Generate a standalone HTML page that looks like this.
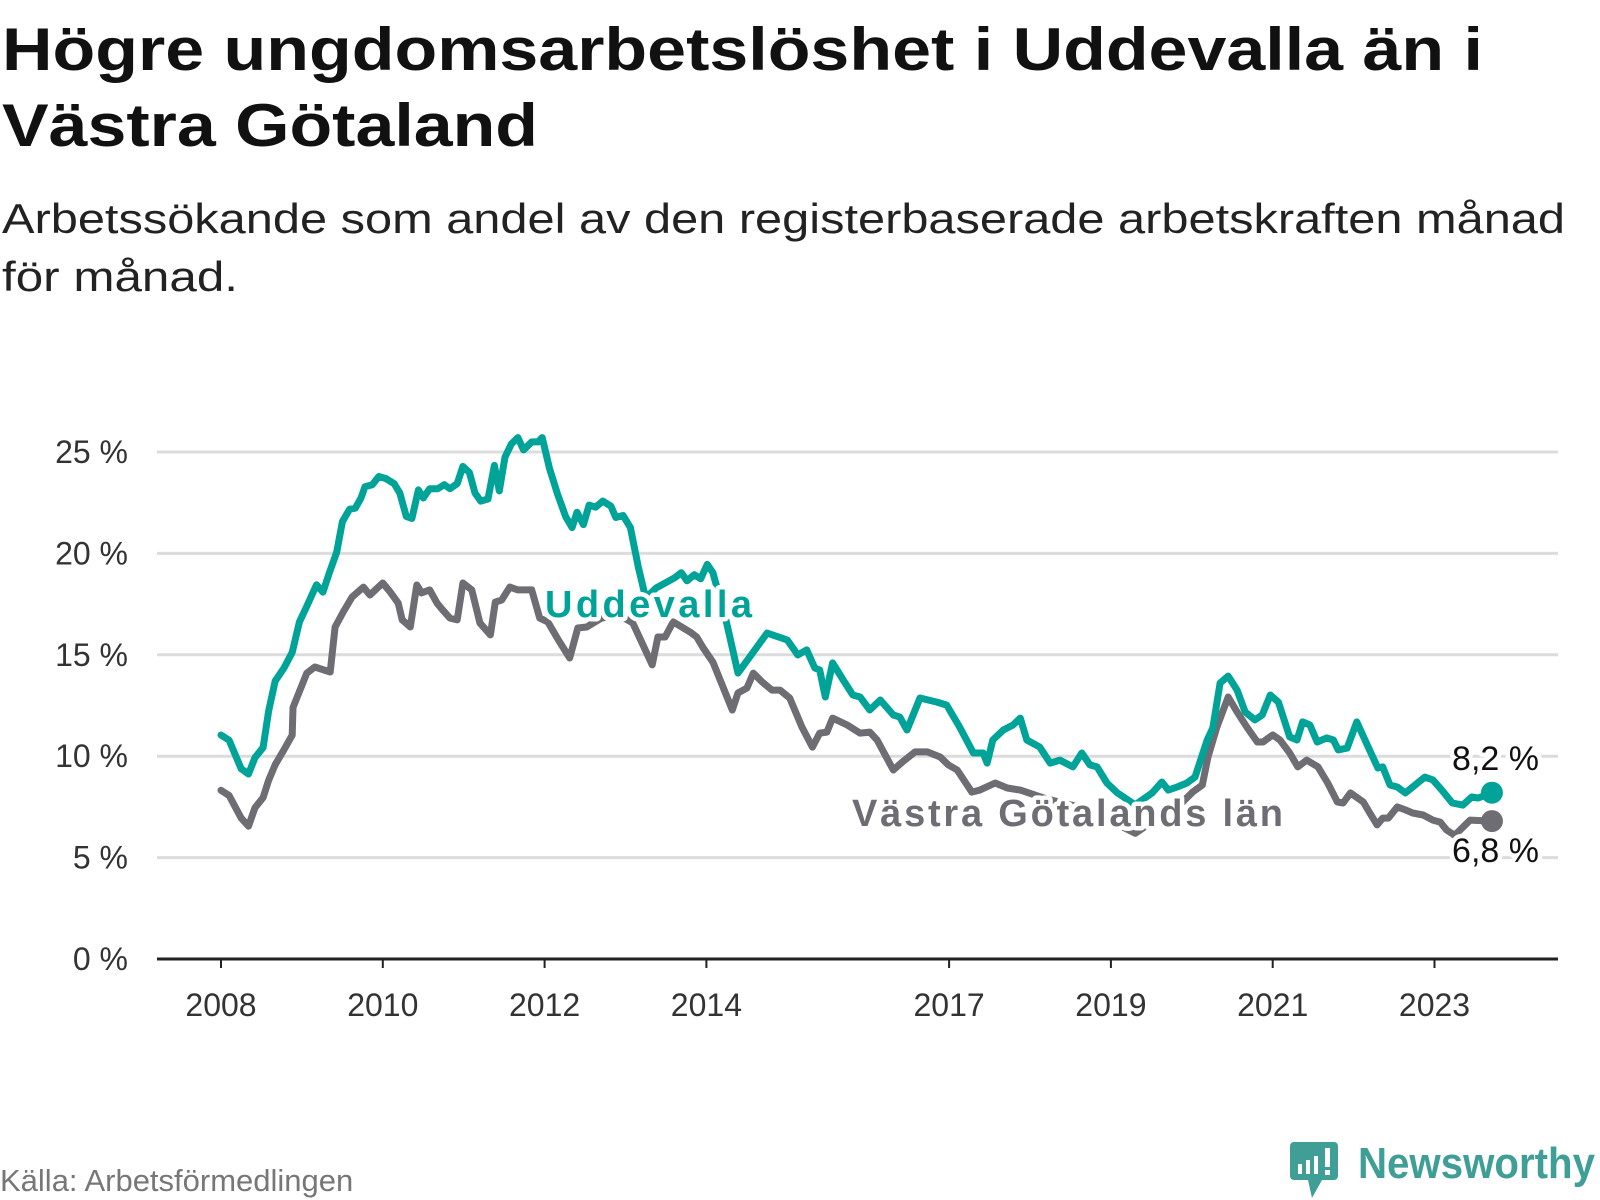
<!DOCTYPE html>
<html><head><meta charset="utf-8"><style>
html,body{margin:0;padding:0;background:#fff;}
svg{display:block;font-family:"Liberation Sans",sans-serif;}
</style></head><body>
<svg id="chart" width="1600" height="1200" viewBox="0 0 1600 1200" xmlns="http://www.w3.org/2000/svg">
<text x="2" y="70" font-size="60" font-weight="bold" fill="#111" textLength="1481" lengthAdjust="spacingAndGlyphs">Högre ungdomsarbetslöshet i Uddevalla än i</text>
<text x="2" y="146" font-size="60" font-weight="bold" fill="#111" textLength="536" lengthAdjust="spacingAndGlyphs">Västra Götaland</text>
<text x="2" y="233" font-size="42" fill="#222" textLength="1563" lengthAdjust="spacingAndGlyphs">Arbetssökande som andel av den registerbaserade arbetskraften månad</text>
<text x="2" y="291" font-size="42" fill="#222" textLength="236" lengthAdjust="spacingAndGlyphs">för månad.</text>
<g id="grid"></g>
<g id="yticks"></g>
<g id="xticks"></g>
<g id="series"></g>
<g id="labels"></g>
<text x="0" y="1191" font-size="31" fill="#777">Källa: Arbetsförmedlingen</text>
<g>
<path d="M1294 1142 H1334 a4 4 0 0 1 4 4 V1176 a4 4 0 0 1 -4 4 H1322 L1312 1198 L1308 1180 H1294 a4 4 0 0 1 -4 -4 V1146 a4 4 0 0 1 4 -4 Z" fill="#3f9e96"/>
<rect x="1298" y="1164" width="4" height="10" fill="#fff"/>
<rect x="1306" y="1160" width="4" height="14" fill="#fff"/>
<rect x="1314" y="1156" width="4" height="18" fill="#fff"/>
<rect x="1325" y="1148" width="5" height="19" fill="#fff"/>
<rect x="1325" y="1170" width="5" height="5" fill="#fff"/>
<text x="1358" y="1178" font-size="44" font-weight="bold" fill="#3f9e96" textLength="237" lengthAdjust="spacingAndGlyphs">Newsworthy</text>
</g>
</svg>
<script>
const yTicks=[0,5,10,15,20,25];
const yTickLabels=["0 %","5 %","10 %","15 %","20 %","25 %"];
const xTicks=[2008,2010,2012,2014,2017,2019,2021,2023];
const uddDates=[2008.00,2008.10,2008.25,2008.34,2008.42,2008.52,2008.59,2008.67,2008.78,2008.88,2008.97,2009.06,2009.18,2009.26,2009.34,2009.43,2009.50,2009.59,2009.66,2009.73,2009.78,2009.87,2009.95,2010.04,2010.14,2010.21,2010.29,2010.36,2010.44,2010.50,2010.58,2010.68,2010.76,2010.83,2010.92,2010.99,2011.07,2011.14,2011.21,2011.30,2011.38,2011.44,2011.51,2011.59,2011.67,2011.74,2011.84,2011.92,2011.97,2012.06,2012.16,2012.26,2012.34,2012.40,2012.48,2012.55,2012.63,2012.72,2012.82,2012.88,2012.97,2013.06,2013.16,2013.25,2013.38,2013.61,2013.69,2013.76,2013.85,2013.93,2014.01,2014.08,2014.25,2014.39,2014.75,2015.00,2015.13,2015.24,2015.34,2015.40,2015.47,2015.56,2015.69,2015.81,2015.90,2016.02,2016.15,2016.31,2016.39,2016.48,2016.64,2016.85,2016.97,2017.13,2017.30,2017.42,2017.47,2017.54,2017.67,2017.79,2017.88,2017.96,2018.12,2018.25,2018.37,2018.53,2018.64,2018.74,2018.83,2018.95,2019.08,2019.30,2019.51,2019.63,2019.71,2019.82,2019.94,2020.04,2020.19,2020.26,2020.35,2020.45,2020.56,2020.66,2020.78,2020.87,2020.97,2021.07,2021.21,2021.30,2021.37,2021.46,2021.55,2021.67,2021.75,2021.81,2021.92,2022.04,2022.18,2022.30,2022.36,2022.45,2022.54,2022.64,2022.73,2022.88,2022.98,2023.09,2023.22,2023.35,2023.46,2023.54,2023.71];
const uddValues=[11.04,10.79,9.38,9.12,9.93,10.43,12.25,13.71,14.36,15.12,16.63,17.39,18.45,18.09,19.05,20.06,21.57,22.18,22.23,22.73,23.29,23.39,23.79,23.69,23.44,22.98,21.82,21.72,23.13,22.73,23.19,23.19,23.39,23.19,23.44,24.29,23.99,22.98,22.58,22.68,24.34,23.08,24.75,25.40,25.71,25.10,25.50,25.50,25.71,24.19,22.93,21.82,21.27,22.03,21.42,22.38,22.28,22.58,22.33,21.77,21.87,21.27,19.30,17.80,18.30,18.80,19.05,18.65,18.95,18.75,19.46,19.05,16.58,14.10,16.07,15.73,14.99,15.24,14.35,14.25,12.92,14.60,13.76,13.02,12.92,12.28,12.77,12.03,11.93,11.29,12.87,12.67,12.52,11.44,10.16,10.16,9.66,10.80,11.29,11.54,11.88,10.80,10.45,9.66,9.81,9.47,10.16,9.57,9.47,8.68,8.19,7.60,8.19,8.73,8.33,8.48,8.68,8.97,10.80,11.39,13.61,13.95,13.26,12.18,11.79,12.03,13.02,12.67,10.95,10.80,11.69,11.54,10.70,10.90,10.80,10.31,10.40,11.69,10.45,9.42,9.47,8.58,8.48,8.19,8.48,8.97,8.83,8.33,7.69,7.59,7.99,7.94,8.2];
const vgDates=[2008.00,2008.10,2008.25,2008.34,2008.42,2008.52,2008.59,2008.67,2008.78,2008.88,2008.89,2009.06,2009.16,2009.35,2009.41,2009.51,2009.62,2009.76,2009.84,2010.00,2010.09,2010.19,2010.24,2010.34,2010.42,2010.48,2010.58,2010.67,2010.74,2010.83,2010.92,2010.99,2011.10,2011.20,2011.33,2011.39,2011.47,2011.57,2011.67,2011.84,2011.94,2012.04,2012.17,2012.31,2012.41,2012.52,2012.70,2012.90,2013.09,2013.33,2013.40,2013.49,2013.59,2013.80,2013.88,2013.96,2014.08,2014.32,2014.39,2014.50,2014.58,2014.69,2014.81,2014.91,2015.03,2015.18,2015.31,2015.40,2015.49,2015.56,2015.74,2015.90,2016.02,2016.11,2016.31,2016.42,2016.58,2016.73,2016.89,2016.99,2017.10,2017.28,2017.38,2017.57,2017.72,2017.88,2018.20,2018.60,2018.90,2019.30,2019.60,2019.85,2020.01,2020.13,2020.20,2020.31,2020.45,2020.56,2020.68,2020.81,2020.88,2021.00,2021.09,2021.21,2021.31,2021.42,2021.56,2021.68,2021.80,2021.87,2021.96,2022.12,2022.20,2022.29,2022.36,2022.43,2022.54,2022.64,2022.73,2022.86,2022.98,2023.07,2023.15,2023.25,2023.44,2023.71];
const vgValues=[8.32,8.06,6.95,6.55,7.46,7.96,8.82,9.58,10.33,11.04,12.40,14.10,14.40,14.15,16.37,17.11,17.85,18.34,17.95,18.54,18.10,17.55,16.72,16.37,18.44,18.05,18.20,17.55,17.21,16.81,16.72,18.54,18.20,16.57,15.98,17.60,17.70,18.34,18.20,18.20,16.81,16.62,15.73,14.84,16.32,16.37,16.80,17.00,16.57,14.50,15.88,15.88,16.62,16.12,15.88,15.34,14.64,12.28,13.12,13.36,14.10,13.66,13.26,13.26,12.87,11.44,10.45,11.14,11.19,11.88,11.54,11.14,11.19,10.80,9.32,9.71,10.21,10.21,9.96,9.57,9.32,8.23,8.33,8.68,8.43,8.33,7.90,7.50,7.00,6.20,7.00,7.60,8.23,8.58,9.96,11.44,12.92,12.18,11.44,10.70,10.70,11.05,10.80,10.16,9.47,9.81,9.47,8.68,7.74,7.69,8.19,7.74,7.20,6.61,6.95,6.95,7.50,7.35,7.20,7.10,6.85,6.75,6.36,6.10,6.85,6.8];

const NS="http://www.w3.org/2000/svg";
const X0=157,X1=1558;
function xs(t){return 221+(t-2008)*80.9;}
function ys(v){return 959-v*20.28;}
function mk(tag,attrs,parent){const e=document.createElementNS(NS,tag);for(const k in attrs)e.setAttribute(k,attrs[k]);parent.appendChild(e);return e;}
const grid=document.getElementById('grid'),yt=document.getElementById('yticks'),xt=document.getElementById('xticks'),ser=document.getElementById('series'),lab=document.getElementById('labels');
yTicks.forEach((v,i)=>{
  if(v>0){const l=mk('line',{x1:X0,x2:X1,y1:ys(v),y2:ys(v),stroke:'#dcdcdc','stroke-width':3},grid);
  
  }
  const t=mk('text',{x:128,y:ys(v)+11,'text-anchor':'end','font-size':32,fill:'#333'},yt);
  
  
  t.textContent=yTickLabels[i];
});
const ax=mk('line',{x1:X0,x2:X1,y1:959,y2:959,stroke:'#222','stroke-width':3},xt);


xTicks.forEach(y=>{
  const tk=mk('line',{x1:xs(y),x2:xs(y),y1:959,y2:968,stroke:'#222','stroke-width':2},xt);
  
  
  const t=mk('text',{x:xs(y),y:1016,'text-anchor':'middle','font-size':32,fill:'#333'},xt);
  
  
  t.textContent=String(y);
});
function line(dates,vals,color,name){
  const d=dates.map((t,i)=>(i?'L':'M')+xs(t).toFixed(1)+' '+ys(vals[i]).toFixed(1)).join(' ');
  const p=mk('path',{d:d,fill:'none',stroke:color,'stroke-width':7,'stroke-linejoin':'round','stroke-linecap':'round'},ser);
  
  
  const n=dates.length-1;
  const c=mk('circle',{cx:xs(dates[n]),cy:ys(vals[n]),r:11,fill:color},ser);
  
  
}
line(vgDates,vgValues,'#6e6d73','vastra-gotaland');
line(uddDates,uddValues,'#00a398','uddevalla');
function label(txt,x,y,color,size,bold,name,anchor){
  const t=mk('text',{x:x,y:y,'font-size':size,'font-weight':bold?'bold':'normal',fill:color,stroke:'#fff','stroke-width':9,'paint-order':'stroke','stroke-linejoin':'round','text-anchor':anchor||'start'},lab);
  
  
  t.textContent=txt;return t;
}
label('Uddevalla',545,617,'#00a398',38,true,'uddevalla-label').setAttribute('textLength','207');
label('Västra Götalands län',852,826,'#6e6d73',38,true,'vastra-gotaland-label').setAttribute('textLength','431');
const fmt=v=>v.toFixed(1).replace('.',',')+' %';
label(fmt(uddValues[uddValues.length-1]),1539,770,'#111',34,false,'uddevalla-end-value','end');
label(fmt(vgValues[vgValues.length-1]),1539,862,'#111',34,false,'vastra-gotaland-end-value','end');
</script>
</body></html>
